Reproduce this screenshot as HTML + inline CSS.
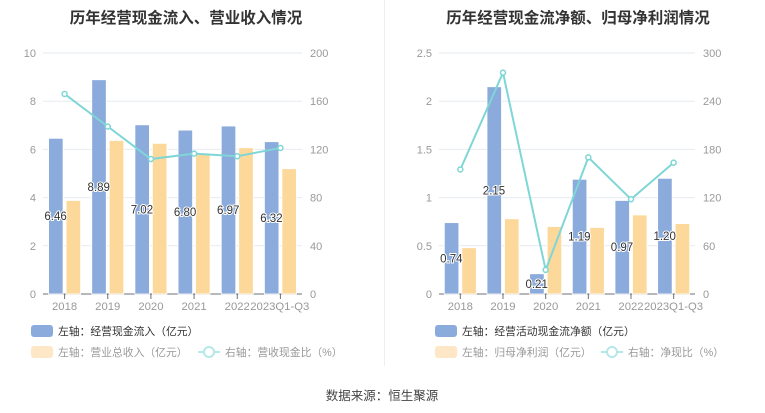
<!DOCTYPE html>
<html><head><meta charset="utf-8"><style>
html,body{margin:0;padding:0;background:#fff;}
svg{display:block;font-family:"Liberation Sans","Noto Sans CJK SC",sans-serif;}
</style></head><body>
<svg id="s" width="765" height="413" xmlns="http://www.w3.org/2000/svg"></svg>
<script>
var s=document.getElementById('s');var h='';
h+='<line x1="384.5" y1="0" x2="384.5" y2="366" stroke="#eee"/>';
h+='<text x="186" y="23" text-anchor="middle" font-size="15.5" font-weight="bold" fill="#333">历年经营现金流入、营业收入情况</text>';
h+='<text x="578" y="23" text-anchor="middle" font-size="15.5" font-weight="bold" fill="#333">历年经营现金流净额、归母净利润情况</text>';
h+='<text x="382" y="400" text-anchor="middle" font-size="12.5" fill="#444">数据来源：恒生聚源</text>';
var cats=['2018','2019','2020','2021','2022','2023Q1-Q3'];
function chart(x0,x1,lmax,lt,rmax,rt,blue,orng,line,lbl,lgB,lgO,lgL,lgx,lgLx){
 var yT=53,yB=294,H=yB-yT,cw=(x1-x0)/6;
 for(var i=0;i<=5;i++){var y=yB-H*i/5;
  if(i>0)h+='<line x1="'+x0+'" y1="'+y+'" x2="'+x1+'" y2="'+y+'" stroke="#e6ebf2"/>';
  h+='<text x="'+(x0-7)+'" y="'+(y+4)+'" text-anchor="end" font-size="11" fill="#999">'+lt[i]+'</text>';
  h+='<text x="'+(x1+8)+'" y="'+(y+4)+'" font-size="11" fill="#999">'+rt[i]+'</text>';}
 h+='<line x1="'+x0+'" y1="'+yB+'" x2="'+x1+'" y2="'+yB+'" stroke="#6e7079"/>';
 var pts=[];
 for(var i=0;i<6;i++){var c=x0+cw*(i+0.5);
  h+='<line x1="'+c+'" y1="'+yB+'" x2="'+c+'" y2="'+(yB+5)+'" stroke="#6e7079"/>';
  var bh=H*blue[i]/lmax,oh=H*orng[i]/lmax;
  h+='<rect x="'+(c-16)+'" y="'+(yB-bh)+'" width="14.5" height="'+bh+'" fill="#8aabdb" stroke="#fff" stroke-width="0.8"/>';
  h+='<rect x="'+(c+1.5)+'" y="'+(yB-oh)+'" width="14.5" height="'+oh+'" fill="#fdd89b" stroke="#fff" stroke-width="0.8"/>';
  var ly=yB-bh/2+4;
  h+='<text x="'+(c-9)+'" y="'+ly+'" text-anchor="middle" font-size="11.5" fill="#333" stroke="#fff" stroke-width="2" paint-order="stroke">'+lbl[i]+'</text>';
  pts.push([c,yB-H*line[i]/rmax]);
  if(i<5) h+='<text x="'+c+'" y="'+(yB+16)+'" text-anchor="middle" font-size="11.3" fill="#999">'+cats[i]+'</text>';
  else h+='<text x="'+(c-cw+13)+'" y="'+(yB+16)+'" font-size="11.3" fill="#999">'+cats[i]+'</text>';}
 h+='<polyline points="'+pts.map(function(p){return p.join(',')}).join(' ')+'" fill="none" stroke="#7fd6d6" stroke-width="2"/>';
 pts.forEach(function(p){h+='<circle cx="'+p[0]+'" cy="'+p[1]+'" r="2.5" fill="#fff" stroke="#7fd6d6" stroke-width="1.5"/>';});
 h+='<rect x="'+lgx+'" y="325" width="22" height="12" rx="3" fill="#8aabdb"/>';
 h+='<text x="'+(lgx+27)+'" y="335" font-size="10.8" fill="#333">'+lgB+'</text>';
 h+='<rect x="'+lgx+'" y="346" width="22" height="12" rx="3" fill="#fde7c6"/>';
 h+='<text x="'+(lgx+27)+'" y="356" font-size="10.8" fill="#999">'+lgO+'</text>';
 h+='<line x1="'+lgLx+'" y1="352" x2="'+(lgLx+22)+'" y2="352" stroke="#b5e8e8" stroke-width="2"/><circle cx="'+(lgLx+11)+'" cy="352" r="5" fill="#fff" stroke="#b5e8e8" stroke-width="2"/>';
 h+='<text x="'+(lgLx+27)+'" y="356" font-size="10.8" fill="#999">'+lgL+'</text>';
}
chart(43,302,10,['0','2','4','6','8','10'],200,['0','40','80','120','160','200'],
 [6.46,8.89,7.02,6.80,6.97,6.32],[3.88,6.37,6.25,5.85,6.07,5.2],[166,139,112,116.5,114.3,121.2],
 ['6.46','8.89','7.02','6.80','6.97','6.32'],'左轴：经营现金流入（亿元）','左轴：营业总收入（亿元）','右轴：营收现金比（%）',31,198);
chart(439,695,2.5,['0','0.5','1','1.5','2','2.5'],300,['0','60','120','180','240','300'],
 [0.74,2.15,0.21,1.19,0.97,1.20],[0.48,0.78,0.70,0.69,0.82,0.73],[155,275.5,30,170,118,163.5],
 ['0.74','2.15','0.21','1.19','0.97','1.20'],'左轴：经营活动现金流净额（亿元）','左轴：归母净利润（亿元）','右轴：净现比（%）',435,601);
s.innerHTML=h;
</script>
</body></html>
